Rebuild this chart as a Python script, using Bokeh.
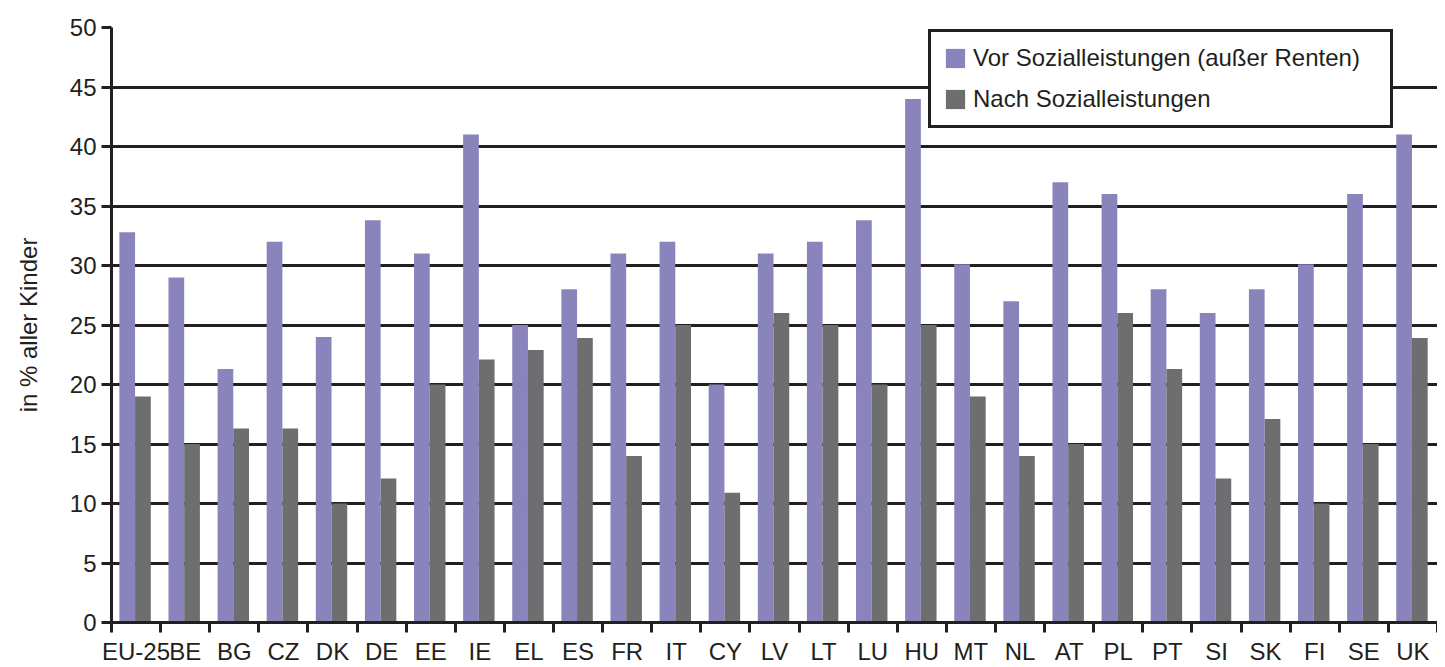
from bokeh.plotting import figure
from bokeh.models import ColumnDataSource, Range1d, FixedTicker, Legend, LegendItem
from bokeh.transform import dodge
from bokeh.embed import file_html
from bokeh.resources import INLINE

categories = ["EU-25", "BE", "BG", "CZ", "DK", "DE", "EE", "IE", "EL", "ES", "FR", "IT", "CY", "LV",
              "LT", "LU", "HU", "MT", "NL", "AT", "PL", "PT", "SI", "SK", "FI", "SE", "UK"]
vor = [32.8, 29, 21.3, 32, 24, 33.8, 31, 41, 25, 28, 31, 32, 20, 31,
       32, 33.8, 44, 30.1, 27, 37, 36, 28, 26, 28, 30.1, 36, 41]
nach = [19, 15, 16.3, 16.3, 10, 12.1, 20, 22.1, 22.9, 23.9, 14, 25, 10.9, 26,
        25, 20, 25, 19, 14, 15, 26, 21.3, 12.1, 17.1, 10, 15, 23.9]
y_ticks = [0, 5, 10, 15, 20, 25, 30, 35, 40, 45, 50]
series_names = ["Vor Sozialleistungen (außer Renten)", "Nach Sozialleistungen"]
y_label = "in % aller Kinder"

FONT = "Liberation Sans"
FS = "24px"
INK = "#231f20"
PURPLE = "#8a84bc"
GRAY = "#6e6e70"

n = len(categories)
centers = [i + 0.5 for i in range(n)]
source = ColumnDataSource(dict(x=centers, vor=vor, nach=nach, cat=categories))

p = figure(width=1437, height=667, x_range=Range1d(0, n), y_range=Range1d(0, 50),
           output_backend="svg", toolbar_location=None,
           min_border_left=111, min_border_top=27, min_border_right=0, min_border_bottom=40)
p.outline_line_color = None
p.background_fill_color = "white"
p.border_fill_color = "white"

r1 = p.vbar(x=dodge("x", -0.18), top="vor", width=0.32, source=source,
            fill_color=PURPLE, line_color=None)
r2 = p.vbar(x=dodge("x", 0.14), top="nach", width=0.32, source=source,
            fill_color=GRAY, line_color=None)

# x axis: labels at category centres, tick marks at category boundaries
xa = p.xaxis[0]
xa.ticker = FixedTicker(ticks=centers, minor_ticks=list(range(n + 1)))
xa.major_label_overrides = {c: cat for c, cat in zip(centers, categories)}
xa.major_tick_out = 0
xa.major_tick_in = 0
xa.minor_tick_out = 10
xa.minor_tick_in = 0
xa.minor_tick_line_width = 3
xa.minor_tick_line_color = INK
xa.axis_line_width = 3
xa.axis_line_color = INK
xa.major_label_text_font = FONT
xa.major_label_text_font_size = FS
xa.major_label_text_color = INK
xa.major_label_standoff = 5

ya = p.yaxis[0]
ya.ticker = FixedTicker(ticks=y_ticks, minor_ticks=[])
ya.major_tick_out = 10
ya.major_tick_in = 0
ya.major_tick_line_width = 3
ya.major_tick_line_color = INK
ya.minor_tick_line_color = None
ya.axis_line_width = 3
ya.axis_line_color = INK
ya.major_label_text_font = FONT
ya.major_label_text_font_size = FS
ya.major_label_text_color = INK
ya.major_label_standoff = 5
ya.axis_label = y_label
ya.axis_label_text_font = FONT
ya.axis_label_text_font_size = FS
ya.axis_label_text_font_style = "normal"
ya.axis_label_text_color = INK
ya.axis_label_standoff = 25

p.xgrid.grid_line_color = None
p.ygrid.ticker = FixedTicker(ticks=y_ticks)
p.ygrid.grid_line_color = INK
p.ygrid.grid_line_width = 3

legend = Legend(items=[LegendItem(label=series_names[0], renderers=[r1]),
                       LegendItem(label=series_names[1], renderers=[r2])],
                location=(817, 494))
legend.border_line_color = INK
legend.border_line_alpha = 1.0
legend.border_line_width = 3
legend.background_fill_color = "white"
legend.background_fill_alpha = 1.0
legend.label_text_font = FONT
legend.label_text_font_size = FS
legend.label_text_color = INK
legend.glyph_width = 24
legend.glyph_height = 24
legend.label_standoff = 6
legend.padding = 12
legend.spacing = 13
legend.margin = 0
legend.label_width = 405
p.add_layout(legend, "center")

open("out.html", "w").write(file_html(p, INLINE))
